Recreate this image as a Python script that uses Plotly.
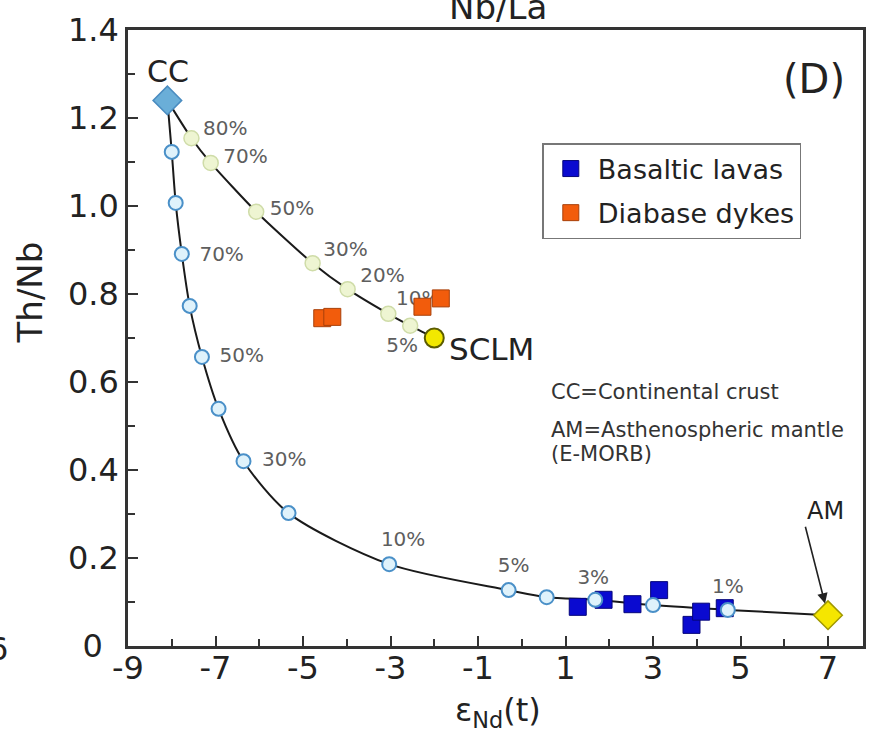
import plotly.graph_objects as go

# ---------------- data ----------------
cc_x, cc_y = [-8.1], [1.24]          # continental crust end-member
am_x, am_y = [7.0], [0.07]           # asthenospheric mantle end-member
sclm_x, sclm_y = [-2.0], [0.70]      # SCLM end-member

# CC - AM mixing curve (crust proportion)
amcc_x = [-8.00, -7.91, -7.77, -7.59, -7.31, -6.93, -6.36, -5.33, -3.03, -0.30, 0.57, 1.68, 3.00, 4.71]
amcc_y = [1.123, 1.007, 0.891, 0.773, 0.657, 0.539, 0.420, 0.302, 0.186, 0.127, 0.111, 0.105, 0.093, 0.082]
amcc_pct = ["90%", "80%", "70%", "60%", "50%", "40%", "30%", "20%", "10%", "5%", "4%", "3%", "2%", "1%"]

# CC - SCLM mixing curve
sclmcc_x = [-7.55, -7.11, -6.07, -4.78, -3.98, -3.05, -2.55]
sclmcc_y = [1.154, 1.098, 0.987, 0.870, 0.811, 0.755, 0.728]
sclmcc_pct = ["80%", "70%", "50%", "30%", "20%", "10%", "5%"]

# samples
basalt_x = [1.28, 1.87, 2.53, 3.14, 3.88, 4.10, 4.64]
basalt_y = [0.089, 0.105, 0.095, 0.127, 0.048, 0.078, 0.086]
dyke_x = [-4.56, -4.33, -2.27, -1.85]
dyke_y = [0.745, 0.748, 0.771, 0.790]

x_ticks = [-9, -7, -5, -3, -1, 1, 3, 5, 7]
x_ticktext = ["-9", "-7", "-5", "-3", "-1", "1", "3", "5", "7"]
y_ticks = [0, 0.2, 0.4, 0.6, 0.8, 1.0, 1.2, 1.4]
y_ticktext = ["0\u2002", "0.2", "0.4", "0.6", "0.8", "1.0", "1.2", "1.4"]

# ---------------- layout geometry ----------------
W, H = 874, 735
ML, MR, MT, MB = 128, 8, 30, 89
XR = [-9, 7.8]
YR = [0, 1.4]
PW, PH = W - ML - MR, H - MT - MB
PXX = PW / (XR[1] - XR[0])
PXY = PH / (YR[1] - YR[0])

FONT = "DejaVu Sans"
LBL = "#5e5e5e"

# label pixel offsets (label centre relative to point)
amcc_off = {"70%": (40, 2), "50%": (40, 0), "30%": (41, 0), "10%": (14, -23),
            "5%": (5, -23), "3%": (-2, -21), "1%": (0, -22)}
sclm_off = {"80%": (34, -8), "70%": (35, -5), "50%": (36, -2), "30%": (33, -12),
            "20%": (35, -12), "10%": (30, -14), "5%": (-8, 21)}


def lab_pos(xs, ys, pcts, offs):
    lx, ly, lt = [], [], []
    for x, y, p in zip(xs, ys, pcts):
        if p in offs:
            dx, dy = offs[p]
            lx.append(x + dx / PXX)
            ly.append(y - dy / PXY)
            lt.append(p)
    return lx, ly, lt


fig = go.Figure()

# mixing lines
fig.add_trace(go.Scatter(x=cc_x + amcc_x + am_x, y=cc_y + amcc_y + am_y, mode="lines",
                         line=dict(color="#1a1a1a", width=2, shape="spline", smoothing=0.8),
                         showlegend=False, hoverinfo="skip"))
fig.add_trace(go.Scatter(x=cc_x + sclmcc_x + sclm_x, y=cc_y + sclmcc_y + sclm_y, mode="lines",
                         line=dict(color="#1a1a1a", width=2, shape="spline", smoothing=0.6),
                         showlegend=False, hoverinfo="skip"))

# basaltic lavas
fig.add_trace(go.Scatter(x=basalt_x, y=basalt_y, mode="markers", name="Basaltic lavas",
                         marker=dict(symbol="square", size=17, color="#0a0ad0",
                                     line=dict(color="#06067a", width=1)),
                         legendgroup="a", legendrank=1))

# mixing circles
fig.add_trace(go.Scatter(x=amcc_x, y=amcc_y, mode="markers", showlegend=False,
                         marker=dict(symbol="circle", size=14, color="#dff2fb",
                                     line=dict(color="#4a90c8", width=2))))
fig.add_trace(go.Scatter(x=sclmcc_x, y=sclmcc_y, mode="markers", showlegend=False,
                         marker=dict(symbol="circle", size=15, color="#eef5d2",
                                     line=dict(color="#cfdca8", width=1.5))))

# percentage labels
lx, ly, lt = lab_pos(amcc_x, amcc_y, amcc_pct, amcc_off)
fig.add_trace(go.Scatter(x=lx, y=ly, text=lt, mode="text", showlegend=False,
                         textfont=dict(family=FONT, size=20, color=LBL)))
lx, ly, lt = lab_pos(sclmcc_x, sclmcc_y, sclmcc_pct, sclm_off)
fig.add_trace(go.Scatter(x=lx, y=ly, text=lt, mode="text", showlegend=False,
                         textfont=dict(family=FONT, size=20, color=LBL)))

# diabase dykes
fig.add_trace(go.Scatter(x=dyke_x, y=dyke_y, mode="markers", name="Diabase dykes",
                         marker=dict(symbol="square", size=17, color="#f25c0c",
                                     line=dict(color="#a8400a", width=1)),
                         legendgroup="b", legendrank=2))

# end-members
fig.add_trace(go.Scatter(x=sclm_x, y=sclm_y, mode="markers", showlegend=False,
                         marker=dict(symbol="circle", size=19, color="#f2e800",
                                     line=dict(color="#5c5c00", width=2))))
fig.add_trace(go.Scatter(x=cc_x, y=cc_y, mode="markers", showlegend=False,
                         marker=dict(symbol="diamond", size=22, color="#6aaed8",
                                     line=dict(color="#4a8cc0", width=1.5))))
fig.add_trace(go.Scatter(x=am_x, y=am_y, mode="markers", showlegend=False,
                         marker=dict(symbol="diamond", size=22, color="#f5e600",
                                     line=dict(color="#a09800", width=1.5))))


def px2x(p):
    return XR[0] + (p - ML) / PXX


def px2y(p):
    return YR[0] + (MT + PH - p) / PXY


def px2paperx(p):
    return (p - ML) / PW


def px2papery(p):
    return (MT + PH - p) / PH


def txt(px, py, s, size, xanchor="center", color="#222", **kw):
    return dict(x=px2x(px), y=px2y(py), text=s, showarrow=False, xanchor=xanchor,
                yanchor="middle", font=dict(family=FONT, size=size, color=color), **kw)


ann = [
    txt(168, 71, "CC", 30),
    txt(817, 79, "(D)", 40),
    txt(448, 349, "SCLM", 31, xanchor="left"),
    txt(828, 511, "AM", 24),
    dict(x=am_x[0], y=am_y[0], ax=-23, ay=-90, text="", showarrow=True,
         arrowhead=2, arrowsize=1.3, arrowwidth=1.6, arrowcolor="#222", standoff=12),
    txt(551, 392, "CC=Continental crust", 21, xanchor="left", color="#333"),
    txt(551, 430, "AM=Asthenospheric mantle", 21, xanchor="left", color="#333"),
    txt(551, 454, "(E-MORB)", 21, xanchor="left", color="#333"),
]
# axis titles
ann.append(dict(xref="paper", yref="paper", x=px2paperx(30), y=px2papery(292), text="Th/Nb",
                textangle=-90, showarrow=False, xanchor="center", yanchor="middle",
                font=dict(family=FONT, size=34, color="#222")))
ann.append(dict(xref="paper", yref="paper", x=px2paperx(500), y=px2papery(712),
                text="ε<sub>Nd</sub>(t)", showarrow=False, xanchor="center", yanchor="middle",
                font=dict(family=FONT, size=32, color="#222")))
# fragments of neighbouring panels
ann.append(dict(xref="paper", yref="paper", x=px2paperx(500), y=px2papery(7), text="Nb/La",
                xanchor="center", yanchor="middle", showarrow=False,
                font=dict(family=FONT, size=34, color="#222")))
ann.append(dict(xref="paper", yref="paper", x=px2paperx(10), y=px2papery(649), text="6",
                xanchor="right", yanchor="middle", showarrow=False,
                font=dict(family=FONT, size=32, color="#222")))

axis_common = dict(showline=True, mirror=True, linecolor="#333", linewidth=2.5,
                   ticks="inside", ticklen=10, tickwidth=2, tickcolor="#333",
                   showgrid=False, zeroline=False,
                   tickfont=dict(family=FONT, size=32, color="#222"))

fig.update_layout(
    width=W, height=H,
    margin=dict(l=ML, r=MR, t=MT, b=MB),
    paper_bgcolor="white", plot_bgcolor="white",
    xaxis=dict(range=XR, tickvals=x_ticks, ticktext=x_ticktext, ticklabelstandoff=-8,
               minor=dict(dtick=1, tick0=-9, ticks="inside", ticklen=7, tickcolor="#333"),
               **axis_common),
    yaxis=dict(range=YR, tickvals=y_ticks, ticktext=y_ticktext,
               minor=dict(dtick=0.1, tick0=0, ticks="inside", ticklen=7, tickcolor="#333"),
               **axis_common),
    legend=dict(x=px2paperx(544), y=px2papery(143), xanchor="left", yanchor="top",
                bgcolor="white", bordercolor="#777", borderwidth=1.5, itemwidth=44,
                font=dict(family=FONT, size=27, color="#222"), tracegroupgap=6),
    annotations=ann,
    showlegend=True,
)

fig.write_html("out.html")
